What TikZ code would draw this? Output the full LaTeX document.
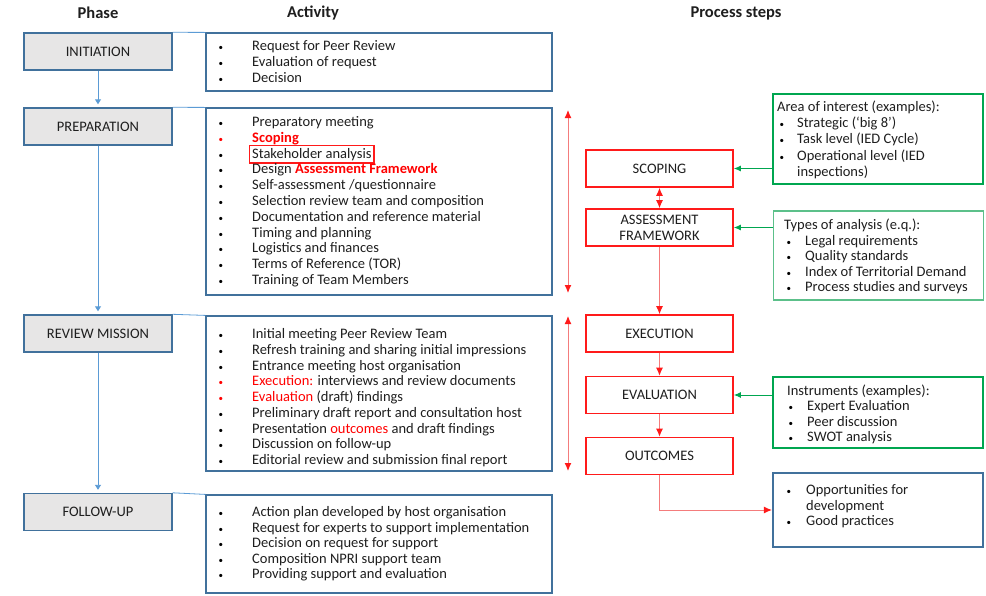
\documentclass[tikz,border=0pt]{standalone}
\usepackage{fontspec}
\setmainfont{Carlito}
\usetikzlibrary{arrows.meta,fit,calc}

\definecolor{phaseblue}{HTML}{41719C}
\definecolor{linkblue}{HTML}{5B9BD5}
\definecolor{phasegrey}{HTML}{E7E6E6}
\definecolor{stepred}{HTML}{FF1A1A}
\definecolor{linkred}{HTML}{F47C7C}
\definecolor{infogreen}{HTML}{00A650}
\definecolor{lightgreen}{HTML}{5CC08A}
\definecolor{txt}{HTML}{1E1E1E}

\newcommand{\rd}[1]{\textcolor{red}{#1}}
\newcommand{\rdb}[1]{\textcolor{red}{\bfseries #1}}
\newcommand{\bul}[2][29pt]{\llap{\textcolor{#2}{\fontsize{9}{9}\selectfont\textbullet}\hspace{#1}}}

\tikzset{
  phasebox/.style={draw=phaseblue, line width=1.4pt, fill=phasegrey, minimum width=148pt, minimum height=37pt, text=txt},
  actbox/.style={draw=phaseblue, line width=1.2pt, minimum width=346pt},
  stepbox/.style={draw=stepred, line width=1.6pt, fill=white, minimum width=147pt, minimum height=37pt, text=txt, align=center},
  infobox/.style={draw=infogreen, line width=2.2pt, minimum width=210pt},
  item/.style={anchor=base west, inner sep=0pt, text=txt},
  head/.style={font=\fontsize{16.5}{18}\selectfont\bfseries, text=txt},
  flow/.style={draw=linkblue, line width=0.9pt, >={Triangle[width=6pt,length=5pt]}, ->, shorten >=3pt},
  rowline/.style={draw=linkblue, line width=0.8pt},
  redlink/.style={draw=linkred, line width=1pt, >={Latex[color=stepred,length=8pt,width=7pt]}},
  greenlink/.style={draw=infogreen, line width=1pt, ->, >={Latex[length=7pt,width=6pt]}}
}

\begin{document}
\begin{tikzpicture}[x=1pt,y=-1pt,font=\fontsize{14.5}{16}\selectfont]
\useasboundingbox (0,0) rectangle (986,595);

% column heads
\node[head] (hphase) at (98,13) {Phase};
\node[head] (hact) at (313,13) {Activity};
\node[head] (hsteps) at (736,13) {Process steps};

% phases
\node[phasebox] (initph) at (98,51.5) {INITIATION};
\node[phasebox] (prepph) at (98,126.5) {PREPARATION};
\node[phasebox] (reviewph) at (98,333.5) {REVIEW MISSION};
\node[phasebox] (followph) at (98,512) {FOLLOW-UP};

\draw[flow] (initph) -- (prepph);
\draw[flow] (prepph) -- (reviewph);
\draw[flow] (reviewph) -- (followph);

% activities
\node[actbox, minimum height=58pt] (initact) at (379,62) {};
\node[actbox, minimum height=187pt] (prepact) at (379,201.5) {};
\node[actbox, minimum height=155pt] (reviewact) at (379,393.5) {};
\node[actbox, minimum height=98pt] (followact) at (379,544) {};

\draw[rowline] (initph.north east) -- (initact.north west);
\draw[rowline] (prepph.north east) -- (prepact.north west);
\draw[rowline] (reviewph.north east) -- (reviewact.north west);
\draw[rowline] (followph.north east) -- (followact.north west);

% box round the stakeholder line
\node[item] (stake) at (252,{126.5+15.8*2}) {\phantom{Stakeholder analysis}};
\draw[stepred, line width=1.5pt] ($(stake.south west)+(-2.5,2.5)$) rectangle ($(stake.north east)+(2.5,-2.5)$);

\foreach \c/\t [count=\i from 0] in {black/Request for Peer Review, black/Evaluation of request, black/Decision}
  \node[item] (init\i) at (252,{50.5+16*\i}) {\bul{\c}\t};

\foreach \c/\t [count=\i from 0] in {black/Preparatory meeting, red/\rdb{Scoping}, black/Stakeholder analysis,
    black/Design \rdb{Assessment Framework}, black/{Self-assessment /questionnaire},
    black/Selection review team and composition, black/Documentation and reference material,
    black/Timing and planning, black/Logistics and finances, black/Terms of Reference (TOR),
    black/Training of Team Members}
  \node[item] (prep\i) at (252,{126.5+15.8*\i}) {\bul{\c}\t};

\foreach \c/\t [count=\i from 0] in {black/Initial meeting Peer Review Team,
    black/Refresh training and sharing initial impressions, black/Entrance meeting host organisation,
    red/\rd{Execution:} interviews and review documents, red/\rd{Evaluation} (draft) findings,
    black/Preliminary draft report and consultation host, black/Presentation \rd{outcomes} and draft findings,
    black/Discussion on follow-up, black/Editorial review and submission final report}
  \node[item] (review\i) at (252,{338.5+15.75*\i}) {\bul{\c}\t};

\foreach \c/\t [count=\i from 0] in {black/Action plan developed by host organisation,
    black/Request for experts to support implementation, black/Decision on request for support,
    black/Composition NPRI support team, black/Providing support and evaluation}
  \node[item] (follow\i) at (252,{516.5+15.5*\i}) {\bul{\c}\t};

% process steps
\node[stepbox] (scoping) at (659.5,168.5) {SCOPING};
\node[stepbox] (assess) at (659.5,227.5) {ASSESSMENT\\FRAMEWORK};
\node[stepbox] (exec) at (659.5,333.5) {EXECUTION};
\node[stepbox] (eval) at (659.5,395) {EVALUATION};
\node[stepbox] (outcomes) at (659.5,456) {OUTCOMES};

\coordinate (prepA) at (568,110);
\coordinate (prepB) at (568,293);
\coordinate (reviewA) at (568,316);
\coordinate (reviewB) at (568,471);
\draw[redlink,<->] (prepA) -- (prepB);
\draw[redlink,<->] (reviewA) -- (reviewB);
\draw[redlink,<->] (scoping) -- (assess);
\draw[redlink,->] (assess) -- (exec);
\draw[redlink,->] (exec) -- (eval);
\draw[redlink,->] (eval) -- (outcomes);

% side notes
\node[infobox, minimum height=90pt] (area) at (878,139) {};
\node[infobox, draw=lightgreen, line width=1.2pt, minimum height=89pt] (types) at (878.5,255.5) {};
\node[infobox, minimum height=71pt] (instr) at (878,412.5) {};
\node[infobox, draw=phaseblue, minimum height=74pt] (opp) at (878,510) {};

\node[item] (areat) at (777,111.5) {Area of interest (examples):};
\foreach \c/\t [count=\i from 1] in {black/Strategic (‘big 8’), black/Task level (IED Cycle),
    black/Operational level (IED, white/inspections)}
  \node[item] (area\i) at (797,{111.5+16.2*\i}) {\bul[13pt]{\c}\t};

\node[item] (typest) at (784,229.5) {Types of analysis (e.q.):};
\foreach \c/\t [count=\i from 1] in {black/Legal requirements, black/Quality standards,
    black/Index of Territorial Demand, black/Process studies and surveys}
  \node[item] (types\i) at (805,{229.5+15.5*\i}) {\bul[14pt]{\c}\t};

\node[item] (instrt) at (787,395.5) {Instruments (examples):};
\foreach \c/\t [count=\i from 1] in {black/Expert Evaluation, black/Peer discussion, black/SWOT analysis}
  \node[item] (instr\i) at (807,{395.5+15.3*\i}) {\bul[14pt]{\c}\t};

\foreach \c/\t [count=\i from 0] in {black/Opportunities for, white/development, black/Good practices}
  \node[item] (opp\i) at (806,{494.5+15.5*\i}) {\bul[15pt]{\c}\t};

\draw[greenlink] (area.west |- scoping) -- (scoping.east);
\draw[greenlink] (types.west |- assess) -- (assess.east);
\draw[greenlink] (instr.west |- eval) -- (eval.east);
\draw[redlink,->] (outcomes.south) |- (opp.west);
\end{tikzpicture}
\end{document}
